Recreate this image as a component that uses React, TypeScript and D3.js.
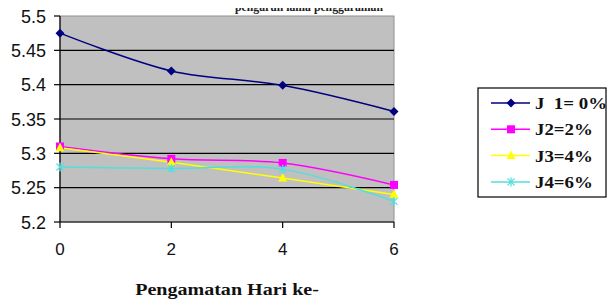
import React from "react";
import * as d3 from "d3";

const days = [0, 2, 4, 6];
const seriesNames = ["J  1= 0%", "J2=2%", "J3=4%", "J4=6%"];
const j1 = [5.475, 5.42, 5.399, 5.361];
const j2 = [5.31, 5.292, 5.286, 5.254];
const j3 = [5.308, 5.287, 5.264, 5.24];
const j4 = [5.28, 5.278, 5.277, 5.23];
const yTicks = [5.2, 5.25, 5.3, 5.35, 5.4, 5.45, 5.5];
const xTicks = [0, 2, 4, 6];
const colors = ["#000080", "#ff00ff", "#ffff00", "#55dddd"];
const markers = ["diamond", "square", "triangle", "star"];
const titleText = "pengaruh lama penggaraman";
const xLabel = "Pengamatan Hari ke-";

const W = 607, H = 304;
const L = 60, R = 394, T = 16, B = 222;

function Marker({ type, x, y, color }: { type: string; x: number; y: number; color: string }) {
  if (type === "diamond") {
    const s = 4.5;
    return <path d={`M${x},${y - s}L${x + s},${y}L${x},${y + s}L${x - s},${y}Z`} fill={color} />;
  }
  if (type === "square") {
    return <rect x={x - 4} y={y - 4} width={8} height={8} fill={color} />;
  }
  if (type === "triangle") {
    return <path d={`M${x},${y - 5}L${x + 4.5},${y + 3.5}L${x - 4.5},${y + 3.5}Z`} fill={color} />;
  }
  const s = 3.5;
  return (
    <g stroke={color} strokeWidth={1.3}>
      <line x1={x - s} y1={y - s} x2={x + s} y2={y + s} />
      <line x1={x - s} y1={y + s} x2={x + s} y2={y - s} />
      <line x1={x} y1={y - s - 1} x2={x} y2={y + s + 1} />
    </g>
  );
}

export default function App() {
  const x = d3.scaleLinear().domain([0, 6]).range([L, R]);
  const y = d3.scaleLinear().domain([5.2, 5.5]).range([B, T]);
  const all = [j1, j2, j3, j4];
  const line = d3
    .line<number>()
    .x((_, i) => x(days[i]))
    .y((d) => y(d))
    .curve(d3.curveCatmullRom.alpha(0.5));

  const legX = 478, legY = 88, legW = 128, legH = 109;
  return (
    <svg width={W} height={H} style={{ position: "absolute", left: 0, top: 0, background: "#fff" }}>
      <defs>
        <clipPath id="titleClip">
          <rect x={0} y={8} width={W} height={7} />
        </clipPath>
      </defs>
      <g clipPath="url(#titleClip)">
        <text x={309} y={10.5} textAnchor="middle" fontFamily="Liberation Serif" fontWeight="bold" fontSize={13} textLength={148} lengthAdjust="spacingAndGlyphs" fill="#222">
          {titleText}
        </text>
      </g>
      <rect x={L} y={T} width={R - L} height={B - T} fill="#c0c0c0" stroke="#909090" strokeWidth={1} />
      {yTicks.map((t) => (
        <g key={t}>
          {t !== 5.2 && t !== 5.5 && (
            <line x1={L} x2={R} y1={y(t)} y2={y(t)} stroke="#000" strokeWidth={1.2} />
          )}
          <line x1={L - 6} x2={L} y1={y(t)} y2={y(t)} stroke="#000" strokeWidth={1.2} />
          <text x={46} y={y(t) + 6.5} textAnchor="end" fontFamily="Liberation Sans" fontSize={18} fill="#111">
            {String(t)}
          </text>
        </g>
      ))}
      <line x1={L} x2={L} y1={T} y2={B} stroke="#000" strokeWidth={1.2} />
      <line x1={L} x2={R} y1={B} y2={B} stroke="#000" strokeWidth={1.2} />
      {xTicks.map((t) => (
        <g key={t}>
          <line x1={x(t)} x2={x(t)} y1={B} y2={B + 6} stroke="#000" strokeWidth={1.2} />
          <text x={x(t)} y={255} textAnchor="middle" fontFamily="Liberation Sans" fontSize={17} fill="#111">
            {String(t)}
          </text>
        </g>
      ))}
      {all.map((s, k) => (
        <g key={k}>
          <path d={line(s) || ""} fill="none" stroke={colors[k]} strokeWidth={1.5} />
        </g>
      ))}
      {all.map((s, k) => (
        <g key={"m" + k}>
          {s.map((v, i) => (
            <Marker key={i} type={markers[k]} x={x(days[i])} y={y(v)} color={colors[k]} />
          ))}
        </g>
      ))}
      <g transform="translate(227,295) scale(1.18,1)">
        <text x={0} y={0} textAnchor="middle" fontFamily="Liberation Serif" fontWeight="bold" fontSize={17} fill="#111">
          {xLabel}
        </text>
      </g>
      <rect x={legX} y={legY} width={legW} height={legH} fill="#fff" stroke="#000" strokeWidth={1.2} />
      {seriesNames.map((n, k) => {
        const cy = 103 + k * 26.3;
        return (
          <g key={n}>
            <line x1={491} x2={530} y1={cy} y2={cy} stroke={colors[k]} strokeWidth={1.5} />
            <Marker type={markers[k]} x={511} y={cy} color={colors[k]} />
            <g transform={`translate(535,${cy + 6}) scale(1.18,1)`}>
              <text x={0} y={0} fontFamily="Liberation Serif" fontWeight="bold" fontSize={16} fill="#111" style={{ whiteSpace: "pre" }}>
                {n}
              </text>
            </g>
          </g>
        );
      })}
    </svg>
  );
}
